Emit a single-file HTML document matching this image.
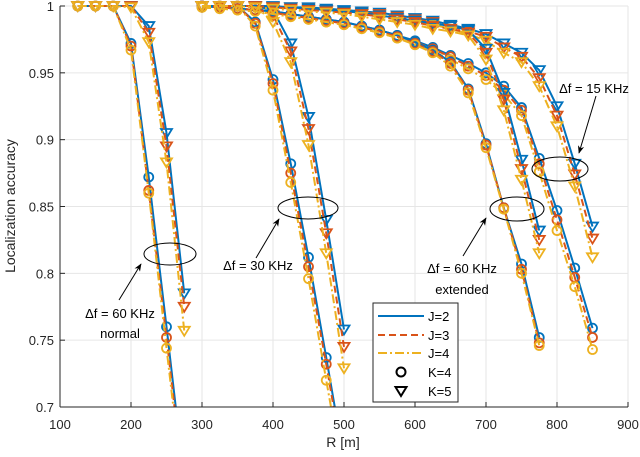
<!DOCTYPE html>
<html><head><meta charset="utf-8"><style>
html,body{margin:0;padding:0;background:#fff;overflow:hidden;width:640px;height:457px;position:relative;}
svg{display:block;font-family:"Liberation Sans",Arial,sans-serif;}
#chart{position:absolute;left:0;top:0;overflow:hidden;}
</style></head><body>
<svg id="chart" width="640" height="457" viewBox="0 0 640 457">
<defs>
<marker id="ah" viewBox="0 0 10 10" refX="9" refY="5" markerWidth="8" markerHeight="8" orient="auto"><path d="M0,1 L10,5 L0,9 L3,5 Z" fill="#000"/></marker>
<clipPath id="pc"><rect x="60" y="0" width="568" height="407"/></clipPath>
</defs>
<g id="grid"></g>
<g id="series" clip-path="url(#pc)"></g>
<g id="axes"></g>
<g id="annot"></g>
<g id="legend"></g>
</svg>
<script>
const xTicks=[100,200,300,400,500,600,700,800,900];
const yTicks=[0.7,0.75,0.8,0.85,0.9,0.95,1];
const yTickLabels=["0.7","0.75","0.8","0.85","0.9","0.95","1"];
const xNormal=[125,150,175,200,225,250,275];
const x30=[300,325,350,375,400,425,450,475,500];
const xExt=[300,325,350,375,400,425,450,475,500,525,550,575,600,625,650,675,700,725,750,775];
const x15=[300,325,350,375,400,425,450,475,500,525,550,575,600,625,650,675,700,725,750,775,800,825,850];
// 60 KHz normal
const n4J2=[1,1,1,0.972,0.872,0.760,0.645];
const n4J3=[1,1,1,0.970,0.862,0.752,0.637];
const n4J4=[1,1,1,0.967,0.860,0.744,0.630];
const n5J2=[1,1,1,1,0.985,0.905,0.785];
const n5J3=[1,1,1,1,0.980,0.895,0.775];
const n5J4=[1,1,1,0.999,0.973,0.883,0.757];
// 30 KHz
const t4J2=[1,1,1,0.988,0.945,0.882,0.812,0.737,0.66];
const t4J3=[1,1,1,0.987,0.942,0.875,0.805,0.732,0.655];
const t4J4=[1,1,1,0.985,0.937,0.868,0.796,0.720,0.645];
const t5J2=[1,1,1,1,0.997,0.972,0.917,0.840,0.758];
const t5J3=[1,1,1,1,0.993,0.966,0.908,0.830,0.745];
const t5J4=[1,1,1,1,0.988,0.958,0.896,0.815,0.729];
// 60 KHz extended
const e4J2=[1,0.999,0.998,0.997,0.996,0.994,0.992,0.990,0.988,0.985,0.982,0.978,0.973,0.967,0.958,0.938,0.897,0.849,0.807,0.752];
const e4J3=[1,0.999,0.998,0.997,0.995,0.993,0.991,0.989,0.987,0.984,0.981,0.977,0.972,0.966,0.957,0.937,0.896,0.849,0.803,0.748];
const e4J4=[0.999,0.998,0.997,0.996,0.994,0.992,0.990,0.988,0.986,0.983,0.980,0.976,0.971,0.965,0.955,0.935,0.894,0.848,0.800,0.746];
const e5J2=[1,1,1,1,0.999,0.999,0.998,0.997,0.996,0.995,0.993,0.991,0.989,0.987,0.985,0.982,0.968,0.935,0.885,0.832];
const e5J3=[1,1,1,1,0.999,0.998,0.997,0.996,0.995,0.994,0.992,0.990,0.988,0.985,0.983,0.980,0.965,0.930,0.878,0.825];
const e5J4=[1,1,1,0.999,0.998,0.997,0.996,0.995,0.994,0.992,0.990,0.988,0.986,0.983,0.981,0.978,0.960,0.922,0.870,0.815];
// 15 KHz
const f4J2=[1,0.999,0.998,0.997,0.996,0.994,0.992,0.990,0.988,0.985,0.982,0.978,0.974,0.969,0.963,0.957,0.950,0.940,0.924,0.886,0.847,0.804,0.759];
const f4J3=[1,0.999,0.998,0.997,0.995,0.993,0.991,0.989,0.987,0.984,0.981,0.977,0.973,0.968,0.962,0.955,0.948,0.937,0.922,0.882,0.840,0.797,0.752];
const f4J4=[0.999,0.998,0.997,0.996,0.994,0.992,0.990,0.988,0.986,0.983,0.980,0.976,0.972,0.966,0.960,0.953,0.945,0.934,0.918,0.876,0.832,0.790,0.743];
const f5J2=[1,1,1,1,1,0.999,0.999,0.998,0.997,0.996,0.995,0.993,0.991,0.989,0.986,0.983,0.979,0.972,0.965,0.952,0.925,0.882,0.835];
const f5J3=[1,1,1,1,0.999,0.999,0.998,0.997,0.996,0.995,0.994,0.992,0.990,0.988,0.985,0.981,0.977,0.969,0.962,0.946,0.918,0.874,0.826];
const f5J4=[1,1,1,0.999,0.999,0.998,0.997,0.996,0.995,0.994,0.992,0.990,0.988,0.986,0.983,0.979,0.974,0.965,0.958,0.940,0.910,0.865,0.812];

const NS="http://www.w3.org/2000/svg";
const L=60,R=628,T=6,B=407;
const xs=v=>L+(v-100)*(R-L)/800;
const ys=v=>B-(v-0.7)*(B-T)/0.3;
const C2="#0072BD",C3="#D95319",C4="#EDB120";
function mk(tag,attrs,parent){const e=document.createElementNS(NS,tag);for(const k in attrs)e.setAttribute(k,attrs[k]);parent.appendChild(e);return e;}
const grid=document.getElementById('grid'),axes=document.getElementById('axes'),ser=document.getElementById('series');
xTicks.forEach(t=>{const g=mk('line',{x1:xs(t),x2:xs(t),y1:T,y2:B,stroke:'#e6e6e6','stroke-width':1},grid);


const tk=mk('line',{x1:xs(t),x2:xs(t),y1:B,y2:B-5,stroke:'#262626','stroke-width':1},axes);


const lb=mk('text',{x:xs(t),y:B+22,'text-anchor':'middle','font-size':13,fill:'#262626'},axes);lb.textContent=t;

});
yTicks.forEach((t,i)=>{const g=mk('line',{x1:L,x2:R,y1:ys(t),y2:ys(t),stroke:'#e6e6e6','stroke-width':1},grid);


const tk=mk('line',{x1:L,x2:L+5,y1:ys(t),y2:ys(t),stroke:'#262626','stroke-width':1},axes);


const lb=mk('text',{x:L-6,y:ys(t)+5,'text-anchor':'end','font-size':13,fill:'#262626'},axes);lb.textContent=yTickLabels[i];

});
const ax1=mk('line',{x1:L,x2:L,y1:T,y2:B,stroke:'#262626','stroke-width':1},axes);


const ax2=mk('line',{x1:L,x2:R,y1:B,y2:B,stroke:'#262626','stroke-width':1},axes);


const xt=mk('text',{x:343,y:447,'text-anchor':'middle','font-size':14,fill:'#262626'},axes);xt.textContent='R [m]';


const yt=mk('text',{x:0,y:0,'text-anchor':'middle','font-size':14,fill:'#262626',transform:'translate(15,206) rotate(-90)'},axes);yt.textContent='Localization accuracy';



const dash={2:'',3:'7,4',4:'9,3,2,3'};
const col={2:C2,3:C3,4:C4};
function series(xArr,yArr,j,marker,name){
  const g=mk('g',{},ser);
  
  
  const pts=xArr.map((x,i)=>xs(x)+','+ys(yArr[i])).join(' ');
  const pl=mk('polyline',{points:pts,fill:'none',stroke:col[j],'stroke-width':2,'stroke-dasharray':dash[j]},g);
  
  
  xArr.forEach((x,i)=>{const cx=xs(x),cy=ys(yArr[i]);let m;
    if(marker==='o'){m=mk('circle',{cx:cx,cy:cy,r:4.5,fill:'none',stroke:col[j],'stroke-width':1.8},g);}
    else{m=mk('polygon',{points:`${cx-5.5},${cy-4} ${cx+5.5},${cy-4} ${cx},${cy+5}`,fill:'none',stroke:col[j],'stroke-width':1.8},g);}
    
    });
}
series(xNormal,n4J2,2,'o','normal-k4-j2');series(xNormal,n4J3,3,'o','normal-k4-j3');series(xNormal,n4J4,4,'o','normal-k4-j4');
series(xNormal,n5J2,2,'v','normal-k5-j2');series(xNormal,n5J3,3,'v','normal-k5-j3');series(xNormal,n5J4,4,'v','normal-k5-j4');
series(x30,t4J2,2,'o','30khz-k4-j2');series(x30,t4J3,3,'o','30khz-k4-j3');series(x30,t4J4,4,'o','30khz-k4-j4');
series(x30,t5J2,2,'v','30khz-k5-j2');series(x30,t5J3,3,'v','30khz-k5-j3');series(x30,t5J4,4,'v','30khz-k5-j4');
series(x15,f4J2,2,'o','15khz-k4-j2');series(x15,f4J3,3,'o','15khz-k4-j3');series(x15,f4J4,4,'o','15khz-k4-j4');
series(xExt,e4J2,2,'o','extended-k4-j2');series(xExt,e4J3,3,'o','extended-k4-j3');series(xExt,e4J4,4,'o','extended-k4-j4');
series(x15,f5J2,2,'v','15khz-k5-j2');series(x15,f5J3,3,'v','15khz-k5-j3');series(x15,f5J4,4,'v','15khz-k5-j4');
series(xExt,e5J2,2,'v','extended-k5-j2');series(xExt,e5J3,3,'v','extended-k5-j3');series(xExt,e5J4,4,'v','extended-k5-j4');

const an=document.getElementById('annot');
an.innerHTML=`
<g>
<ellipse cx="170" cy="254" rx="26" ry="11" fill="none" stroke="#000" stroke-width="1"/>
<line x1="119" y1="300" x2="141" y2="264" stroke="#000" stroke-width="1" marker-end="url(#ah)"/>
<text x="120" y="318" text-anchor="middle" font-size="13" fill="#000">Δf = 60 KHz</text>
<text x="120" y="338" text-anchor="middle" font-size="13" fill="#000">normal</text></g>
<g>
<ellipse cx="308" cy="208" rx="30" ry="11" fill="none" stroke="#000" stroke-width="1"/>
<line x1="256" y1="258" x2="279" y2="219" stroke="#000" stroke-width="1" marker-end="url(#ah)"/>
<text x="258" y="270" text-anchor="middle" font-size="13" fill="#000">Δf = 30 KHz</text></g>
<g>
<ellipse cx="517" cy="209" rx="27" ry="12" fill="none" stroke="#000" stroke-width="1"/>
<line x1="463" y1="256" x2="486" y2="218" stroke="#000" stroke-width="1" marker-end="url(#ah)"/>
<text x="462" y="273" text-anchor="middle" font-size="13" fill="#000">Δf = 60 KHz</text>
<text x="462" y="294" text-anchor="middle" font-size="13" fill="#000">extended</text></g>
<g>
<ellipse cx="560" cy="169" rx="28" ry="12" fill="none" stroke="#000" stroke-width="1"/>
<line x1="596" y1="96" x2="579" y2="153" stroke="#000" stroke-width="1" marker-end="url(#ah)"/>
<text x="594" y="93" text-anchor="middle" font-size="13" fill="#000">Δf = 15 KHz</text></g>`;
const lg=document.getElementById('legend');
lg.innerHTML=`
<rect x="373" y="303" width="85" height="99" fill="#fff" stroke="#262626" stroke-width="1"/>
<g><line x1="378" x2="424" y1="316" y2="316" stroke="#0072BD" stroke-width="2"/><text x="428" y="321" font-size="13" fill="#000">J=2</text></g>
<g><line x1="378" x2="424" y1="335" y2="335" stroke="#D95319" stroke-width="2" stroke-dasharray="7,4"/><text x="428" y="340" font-size="13" fill="#000">J=3</text></g>
<g><line x1="378" x2="424" y1="353" y2="353" stroke="#EDB120" stroke-width="2" stroke-dasharray="9,3,2,3"/><text x="428" y="358" font-size="13" fill="#000">J=4</text></g>
<g><circle cx="401" cy="372" r="4.5" fill="none" stroke="#000" stroke-width="2"/><text x="428" y="377" font-size="13" fill="#000">K=4</text></g>
<g><polygon points="395.5,387 406.5,387 401,396" fill="none" stroke="#000" stroke-width="2"/><text x="428" y="396" font-size="13" fill="#000">K=5</text></g>`;
</script>
</body></html>
